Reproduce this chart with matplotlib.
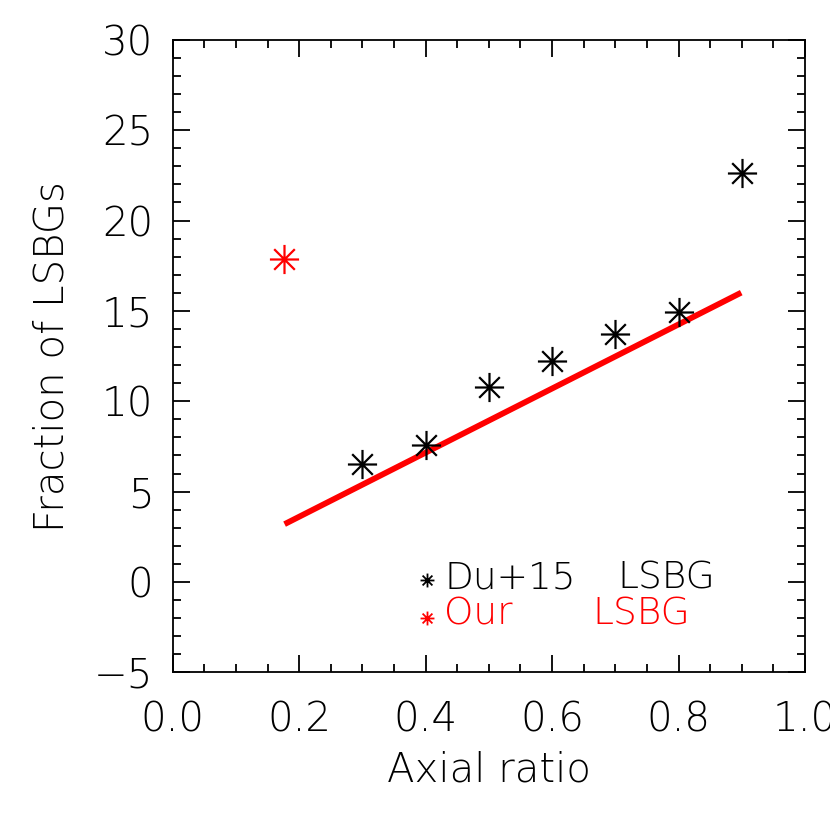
import matplotlib
matplotlib.use('Agg')
import matplotlib.pyplot as plt
from matplotlib.path import Path
from matplotlib.ticker import MultipleLocator

# Du+15 LSBG fractions per axial ratio bin
du15_axial = [0.3, 0.4, 0.5, 0.6, 0.7, 0.8, 0.9]
du15_frac = [6.52, 7.58, 10.77, 12.21, 13.70, 14.96, 22.65]

# our sample
our_axial = [0.176]
our_frac = [17.86]

# linear fit line
fit_x = [0.177, 0.899]
fit_y = [3.2, 16.01]

plt.rcParams['font.family'] = ['DejaVu Sans']
plt.rcParams['font.weight'] = 'light'

# 8-armed asterisk like IDL psym=2
d = 0.7071
verts = [(-1, 0), (1, 0), (0, -1), (0, 1), (-d, -d), (d, d), (-d, d), (d, -d)]
codes = [Path.MOVETO, Path.LINETO] * 4
asterisk = Path(verts, codes)

fig = plt.figure(figsize=(8.3, 8.3), dpi=100)
ax = fig.add_axes([0.208, 0.190, 0.762, 0.762])

ax.plot(fit_x, fit_y, color='#ff0000', lw=4.2, solid_capstyle='butt')
ax.plot(du15_axial, du15_frac, ls='none', marker=asterisk, ms=21, mew=1.6,
        color='black')
ax.plot(our_axial, our_frac, ls='none', marker=asterisk, ms=21, mew=1.6,
        color='#ff0000')

ax.set_xlim(0, 1)
ax.set_ylim(-5, 30)
ax.xaxis.set_major_locator(MultipleLocator(0.2))
ax.xaxis.set_minor_locator(MultipleLocator(0.05))
ax.yaxis.set_major_locator(MultipleLocator(5))
ax.yaxis.set_minor_locator(MultipleLocator(1))
ax.tick_params(which='both', direction='in', top=True, right=True, width=1.3)
ax.tick_params(which='major', length=12, labelsize=29)
ax.tick_params(which='minor', length=6)
ax.tick_params(axis='x', pad=20)
ax.tick_params(axis='y', pad=14)
ax.xaxis.set_major_formatter(matplotlib.ticker.FormatStrFormatter('%.1f'))
for s in ax.spines.values():
    s.set_linewidth(1.3)

ax.set_xlabel('Axial ratio', fontsize=29, fontweight='light', labelpad=8)
ax.set_ylabel('Fraction of LSBGs', fontsize=29, fontweight='light', labelpad=16)

# legend drawn by hand
def ax_xy(px, py):
    return ((px - 173) / 632.0, (672 - py) / 632.0)

ax.plot(*ax_xy(427, 580), marker=asterisk, ms=10, mew=1.3, color='black',
        transform=ax.transAxes)
ax.plot(*ax_xy(427, 618), marker=asterisk, ms=10, mew=1.3, color='#ff0000',
        transform=ax.transAxes)
ax.text(*ax_xy(445, 578), 'Du+15', fontsize=27, va='center', ha='left',
        transform=ax.transAxes)
ax.text(*ax_xy(617, 578), 'LSBG', fontsize=27, va='center', ha='left',
        transform=ax.transAxes)
ax.text(*ax_xy(444, 614), 'Our', fontsize=27, va='center', ha='left',
        color='#ff0000', transform=ax.transAxes)
ax.text(*ax_xy(592, 614), 'LSBG', fontsize=27, va='center', ha='left',
        color='#ff0000', transform=ax.transAxes)

fig.savefig('out.png', dpi=100)
